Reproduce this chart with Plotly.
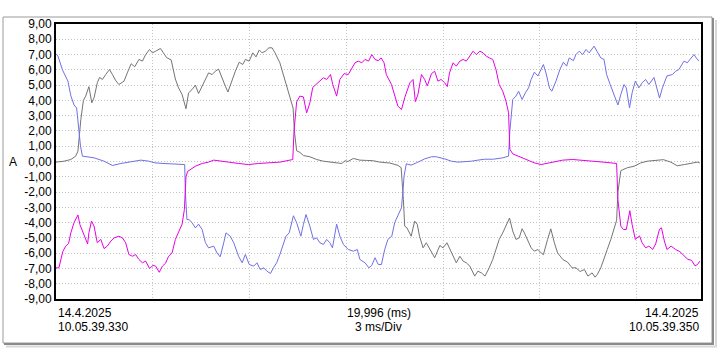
import plotly.graph_objects as go

# ---- data (time in ms, current in A) ----
gray_t = [0.00,0.25,0.46,0.61,0.68,0.77,0.85,0.92,1.02,1.11,1.18,1.28,1.35,1.44,1.54,1.66,1.75,1.85,1.95,2.11,2.21,2.33,2.44,2.57,2.68,2.78,2.90,2.99,3.09,3.24,3.33,3.43,3.57,3.70,3.80,3.91,4.03,4.11,4.22,4.32,4.42,4.53,4.63,4.73,4.84,4.94,5.04,5.12,5.25,5.33,5.46,5.56,5.68,5.79,5.87,5.99,6.10,6.20,6.30,6.39,6.49,6.60,6.70,6.79,6.94,7.05,7.15,7.25,7.35,7.39,7.46,7.56,7.67,7.87,8.08,8.29,8.49,8.70,8.86,8.96,9.05,9.22,9.42,9.63,9.84,10.04,10.35,10.60,10.70,10.77,10.81,10.88,11.01,11.12,11.20,11.27,11.38,11.48,11.59,11.74,11.90,12.00,12.12,12.22,12.31,12.41,12.52,12.62,12.72,12.83,12.98,13.08,13.19,13.30,13.43,13.54,13.64,13.74,13.85,13.95,14.06,14.16,14.26,14.36,14.45,14.52,14.63,14.73,14.83,14.94,15.04,15.11,15.24,15.34,15.45,15.55,15.71,15.86,16.00,16.12,16.25,16.38,16.49,16.62,16.71,16.78,16.89,16.99,17.09,17.20,17.30,17.38,17.42,17.51,17.56,17.71,17.92,18.13,18.33,18.59,18.83,19.06,19.26,19.48,19.68,19.88,19.96]
gray_a = [-0.04,0.02,0.13,0.35,0.68,2.75,4.0,4.28,4.9,3.84,4.17,5.15,5.5,5.37,5.69,6.02,5.69,5.3,5.04,5.26,5.8,6.4,6.2,6.68,6.57,7.0,7.33,7.11,7.22,7.4,7.11,6.8,6.65,5.4,4.82,4.38,3.45,4.49,4.71,5.0,4.45,4.93,5.3,5.8,5.69,5.91,6.05,5.58,4.93,4.55,5.37,5.91,6.5,6.35,6.68,6.57,7.11,6.85,7.3,7.11,7.22,7.44,7.44,7.11,6.46,5.69,4.93,4.3,3.5,2.0,0.7,0.6,0.39,0.31,0.13,0.02,-0.04,-0.09,-0.13,0.05,0.0,0.2,0.09,0.07,0.05,-0.04,-0.1,-0.25,-0.4,-2.5,-4.23,-4.34,-4.89,-3.9,-4.12,-4.89,-5.65,-5.32,-5.76,-6.3,-5.5,-5.65,-5.32,-5.76,-6.09,-6.63,-6.2,-6.52,-6.63,-6.85,-7.5,-7.18,-7.29,-7.5,-6.96,-6.41,-5.76,-5.1,-4.67,-4.23,-3.7,-4.56,-5.1,-5.0,-4.4,-4.67,-5.21,-5.65,-5.87,-5.76,-5.98,-6.1,-5.1,-4.41,-5.32,-5.98,-6.41,-6.59,-6.96,-6.96,-7.2,-7.07,-7.5,-7.29,-7.57,-7.4,-6.96,-6.41,-5.76,-5.1,-4.34,-3.85,-2.0,-0.6,-0.55,-0.41,-0.31,-0.09,0.02,0.05,0.12,-0.04,-0.28,-0.2,-0.13,-0.04,-0.09]

blue_t = [0.00,0.06,0.20,0.30,0.37,0.46,0.56,0.64,0.68,0.76,0.82,0.99,1.18,1.49,1.75,2.01,2.32,2.63,2.88,3.07,3.35,3.69,3.99,4.01,4.06,4.12,4.22,4.32,4.42,4.53,4.63,4.73,4.89,4.99,5.09,5.20,5.27,5.40,5.51,5.66,5.77,5.87,5.99,6.13,6.23,6.33,6.44,6.54,6.65,6.74,6.84,6.94,7.05,7.13,7.23,7.36,7.46,7.59,7.67,7.75,7.87,7.98,8.08,8.18,8.29,8.39,8.49,8.57,8.70,8.80,8.91,9.06,9.22,9.34,9.42,9.58,9.70,9.79,9.89,9.99,10.09,10.19,10.29,10.41,10.50,10.60,10.71,10.76,10.79,10.86,11.01,11.17,11.28,11.43,11.64,11.79,12.05,12.26,12.46,12.67,12.88,13.08,13.29,13.56,13.85,14.03,14.07,14.16,14.26,14.34,14.45,14.55,14.65,14.73,14.83,14.94,15.04,15.11,15.19,15.30,15.37,15.50,15.62,15.73,15.83,15.91,16.04,16.12,16.22,16.33,16.43,16.53,16.68,16.78,16.89,16.99,17.07,17.18,17.30,17.42,17.51,17.61,17.68,17.78,17.86,17.96,18.07,18.17,18.28,18.38,18.54,18.71,18.80,18.94,19.11,19.21,19.31,19.47,19.57,19.68,19.78,19.85,19.93]
blue_a = [7.05,6.9,6.0,5.5,5.26,4.3,3.7,3.5,2.75,1.0,0.35,0.3,0.24,0.02,-0.26,-0.13,-0.04,0.09,0.02,-0.09,-0.13,-0.15,-0.2,-2.0,-3.8,-3.8,-4.0,-4.35,-4.1,-4.45,-5.3,-5.65,-5.54,-5.98,-6.24,-5.32,-4.67,-4.89,-5.32,-6.2,-6.63,-6.09,-6.74,-6.85,-6.63,-7.07,-6.96,-7.18,-7.33,-6.96,-6.63,-6.09,-5.32,-4.89,-4.67,-3.55,-4.0,-4.89,-4.12,-3.47,-4.23,-5.1,-5.0,-5.32,-5.43,-5.1,-5.32,-5.65,-4.1,-4.89,-5.43,-5.76,-5.87,-5.76,-6.41,-6.63,-6.96,-6.8,-6.3,-6.74,-6.74,-5.76,-5.1,-4.89,-4.0,-3.58,-3.03,-1.83,-0.96,-0.15,-0.24,-0.09,0.02,0.17,0.31,0.31,0.17,0.02,-0.04,-0.02,0.02,0.09,0.15,0.15,0.24,0.35,2.0,4.06,4.28,4.6,4.06,4.49,4.82,5.37,5.85,5.6,6.02,6.35,5.8,4.8,4.6,5.26,6.02,6.5,6.24,6.78,6.6,7.0,7.22,7.0,7.33,7.11,7.55,7.22,6.78,6.68,5.69,5.04,4.38,3.7,4.38,5.04,4.82,3.51,4.49,5.26,4.82,5.15,5.37,5.04,5.5,4.15,4.82,5.6,5.69,5.91,6.02,6.57,6.46,6.78,7.0,6.78,6.57]

magenta_t = [0.00,0.09,0.21,0.30,0.39,0.46,0.56,0.68,0.74,0.87,0.98,1.02,1.10,1.18,1.28,1.39,1.49,1.59,1.70,1.80,1.95,2.06,2.16,2.26,2.37,2.47,2.57,2.68,2.78,2.90,3.01,3.09,3.20,3.30,3.40,3.49,3.60,3.70,3.80,3.91,3.98,4.03,4.08,4.16,4.32,4.53,4.73,4.89,5.09,5.35,5.66,5.97,6.28,6.59,6.94,7.25,7.34,7.38,7.46,7.56,7.67,7.77,7.87,7.96,8.08,8.18,8.29,8.39,8.51,8.58,8.70,8.80,8.93,9.06,9.16,9.27,9.37,9.48,9.58,9.69,9.79,9.89,9.99,10.08,10.17,10.24,10.40,10.50,10.60,10.71,10.81,10.97,11.07,11.14,11.22,11.33,11.43,11.51,11.64,11.74,11.84,11.94,12.05,12.13,12.20,12.31,12.41,12.52,12.62,12.72,12.83,12.93,13.03,13.14,13.24,13.34,13.44,13.54,13.64,13.74,13.85,13.95,14.03,14.07,14.16,14.36,14.57,14.83,15.04,15.19,15.40,15.71,16.02,16.33,16.64,17.02,17.38,17.42,17.51,17.59,17.68,17.79,17.86,17.96,18.09,18.17,18.28,18.38,18.50,18.59,18.71,18.77,18.86,18.94,19.07,19.21,19.34,19.47,19.59,19.70,19.81,19.89,19.96]
magenta_a = [-6.96,-6.96,-5.9,-5.54,-5.37,-4.67,-4.0,-3.5,-4.12,-4.89,-5.4,-4.67,-3.9,-4.23,-5.32,-5.1,-5.7,-5.54,-5.21,-5.0,-4.89,-5.0,-5.32,-6.09,-6.2,-6.09,-6.41,-6.63,-6.52,-7.0,-6.8,-6.85,-7.25,-6.85,-6.65,-6.2,-5.98,-5.1,-4.67,-4.1,-3.14,-1.0,-0.65,-0.52,-0.31,-0.13,-0.04,0.09,0.05,-0.04,-0.13,-0.2,-0.13,-0.09,-0.04,0.09,0.13,2.0,3.9,4.28,4.23,3.18,3.84,4.85,5.1,5.26,5.48,5.37,5.69,5.04,4.28,5.37,5.75,5.69,6.02,6.46,6.57,6.46,6.68,6.57,7.0,6.68,6.6,6.78,6.46,5.69,5.04,4.4,3.62,3.4,4.17,5.15,5.37,3.92,4.38,5.69,5.37,4.95,5.75,5.91,5.26,5.37,5.15,4.9,5.8,6.46,6.24,6.57,6.68,6.57,6.89,7.22,7.0,7.22,7.11,6.89,6.78,6.68,6.02,5.04,4.6,3.95,3.19,0.8,0.5,0.31,0.13,-0.09,-0.2,-0.13,-0.04,0.09,0.13,0.09,0.02,-0.05,-0.13,-2.5,-4.23,-4.45,-4.45,-3.22,-4.12,-5.1,-4.87,-5.32,-5.65,-5.54,-5.75,-5.4,-4.43,-4.34,-5.2,-5.76,-5.54,-5.76,-5.9,-6.2,-6.41,-6.46,-6.83,-6.74,-6.52]

y_tick_vals = [9, 8, 7, 6, 5, 4, 3, 2, 1, 0, -1, -2, -3, -4, -5, -6, -7, -8, -9]
y_tick_text = ["9,00", "8,00", "7,00", "6,00", "5,00", "4,00", "3,00", "2,00", "1,00", "0,00",
               "-1,00", "-2,00", "-3,00", "-4,00", "-5,00", "-6,00", "-7,00", "-8,00", "-9,00"]
x_grid_vals = [3, 6, 9, 12, 15, 18]
x_range = [0, 19.996]
y_unit = "A"
start_date, start_time = "14.4.2025", "10.05.39.330"
end_date, end_time = "14.4.2025", "10.05.39.350"
span_text, div_text = "19,996 (ms)", "3 ms/Div"

FONT = "Liberation Sans, Arial, sans-serif"

fig = go.Figure()
fig.add_trace(go.Scatter(x=gray_t, y=gray_a, mode="lines", line=dict(color="#747474", width=1), showlegend=False))
fig.add_trace(go.Scatter(x=blue_t, y=blue_a, mode="lines", line=dict(color="#7070e6", width=1), showlegend=False))
fig.add_trace(go.Scatter(x=magenta_t, y=magenta_a, mode="lines", line=dict(color="#e600e6", width=1), showlegend=False))

# layout geometry (pixels)
L, R, T, B = 56, 701, 24, 299
W, H = 720, 360
pw, ph = R - L, B - T
def px(x):
    return (x - L) / pw
def py(y):
    return (B - y) / ph

fig.update_layout(
    width=W, height=H,
    margin=dict(l=L, r=W - R, t=T, b=H - B, pad=0),
    paper_bgcolor="white", plot_bgcolor="white",
    font=dict(family=FONT, size=12, color="black"),
    showlegend=False,
)
GRID = dict(showgrid=True, gridcolor="#c4c4c4", griddash="1px,2px", gridwidth=1)
fig.update_xaxes(range=x_range, tickvals=x_grid_vals, showticklabels=False, ticks="",
                 showline=True, linecolor="black", linewidth=2, mirror=True, zeroline=False, **GRID)
fig.update_yaxes(range=[-9, 9], tickvals=y_tick_vals, ticktext=y_tick_text, ticks="",
                 showline=True, linecolor="black", linewidth=2, mirror=True, zeroline=False,
                 tickfont=dict(size=12), **GRID)

# outer frame with shadow
fig.add_shape(type="rect", xref="paper", yref="paper", x0=px(3), x1=px(712), y0=py(343), y1=py(17),
              line=dict(color="#9a9a9a", width=1), layer="below")
fig.add_shape(type="line", xref="paper", yref="paper", x0=px(713), x1=px(713), y0=py(344), y1=py(18),
              line=dict(color="#8a8a8a", width=2))
fig.add_shape(type="line", xref="paper", yref="paper", x0=px(4), x1=px(714), y0=py(344), y1=py(344),
              line=dict(color="#8a8a8a", width=2))
fig.add_shape(type="line", xref="paper", yref="paper", x0=px(716), x1=px(716), y0=py(346), y1=py(20),
              line=dict(color="#d8d8d8", width=2))
fig.add_shape(type="line", xref="paper", yref="paper", x0=px(6), x1=px(717), y0=py(346.5), y1=py(346.5),
              line=dict(color="#d8d8d8", width=2))

ann = dict(showarrow=False, font=dict(family=FONT, size=12, color="black"))
fig.add_annotation(x=px(13), y=0, xref="paper", yref="y", text=y_unit, xanchor="center", yanchor="middle", **ann)
fig.add_annotation(x=0, y=py(313), xref="paper", yref="paper", text=start_date, xanchor="left", yanchor="middle", **ann)
fig.add_annotation(x=0, y=py(327), xref="paper", yref="paper", text=start_time, xanchor="left", yanchor="middle", **ann)
fig.add_annotation(x=1, y=py(313), xref="paper", yref="paper", text=end_date, xanchor="right", yanchor="middle", **ann)
fig.add_annotation(x=1, y=py(327), xref="paper", yref="paper", text=end_time, xanchor="right", yanchor="middle", **ann)
fig.add_annotation(x=0.5, y=py(313), xref="paper", yref="paper", text=span_text, xanchor="center", yanchor="middle", **ann)
fig.add_annotation(x=0.5, y=py(327), xref="paper", yref="paper", text=div_text, xanchor="center", yanchor="middle", **ann)

fig.write_html("out.html", config={"displayModeBar": False},
               post_script="document.body.style.margin='0px';")
